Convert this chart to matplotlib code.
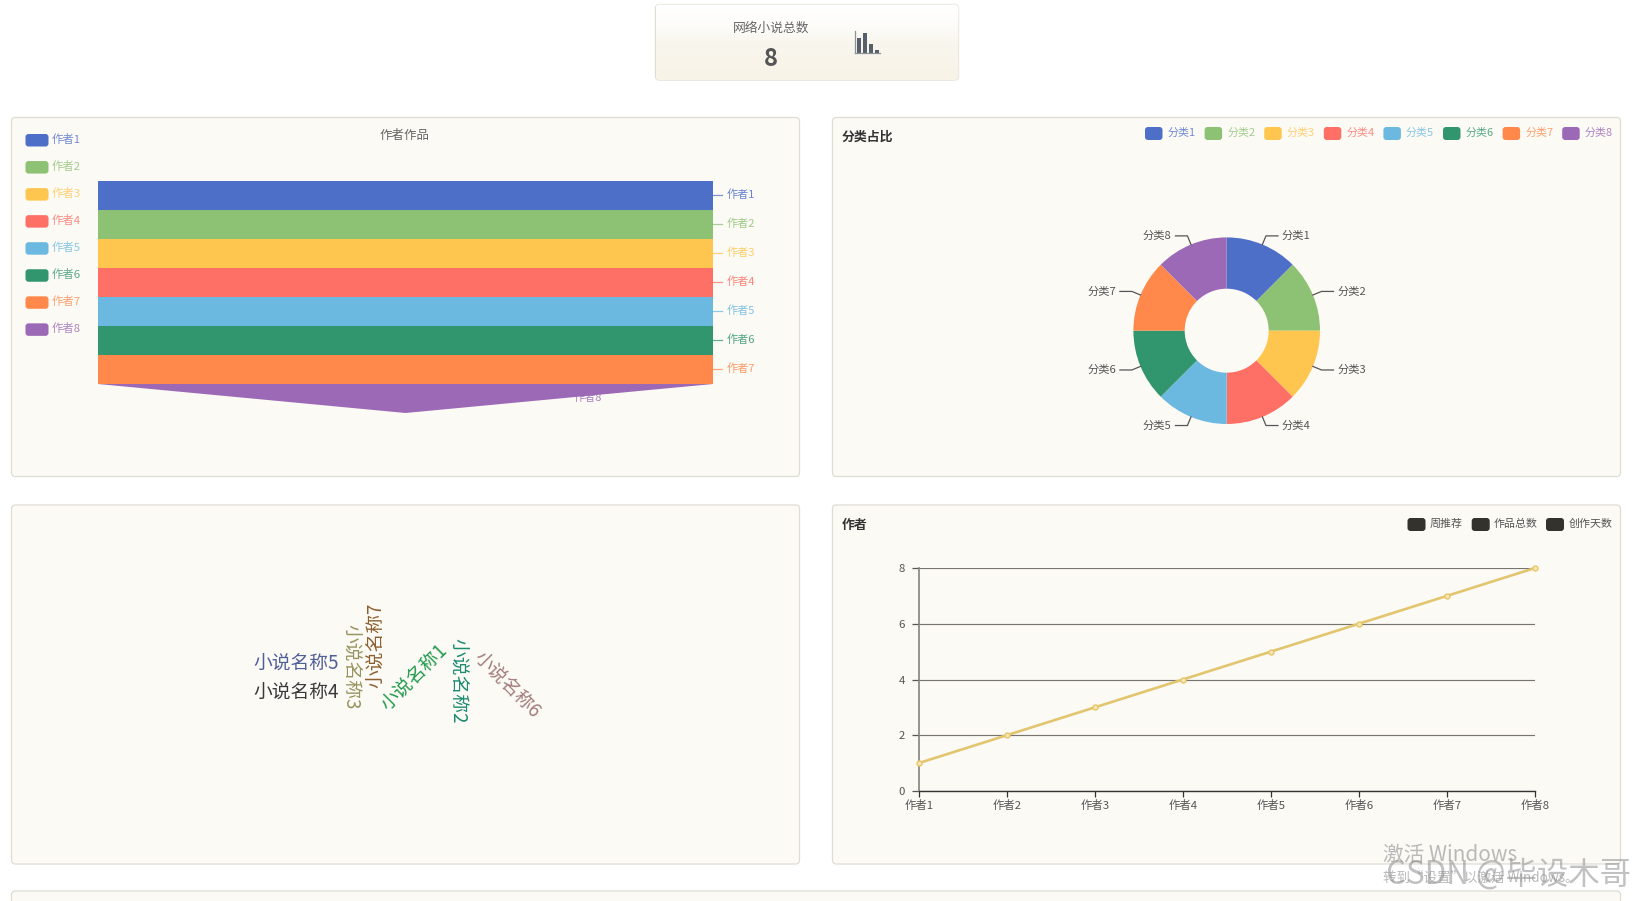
import numpy as np
import matplotlib
matplotlib.use("Agg")
import matplotlib.pyplot as plt
from matplotlib.patches import FancyBboxPatch
from matplotlib.colors import LinearSegmentedColormap

plt.rcParams['font.family'] = ['Noto Sans CJK SC', 'DejaVu Sans']

W, H = 1635, 901
PANEL_BG = '#fcfaf5'
BORDER = '#dfddd3'

# ---------- data ----------
palette = ['#4e6fc7', '#8dc173', '#ffc64f', '#fe7066', '#6bb8e0', '#31966e', '#ff884a', '#9b69b5']
authors = ['作者1', '作者2', '作者3', '作者4', '作者5', '作者6', '作者7', '作者8']
funnel_values = [8, 8, 8, 8, 8, 8, 8, 8]
categories = ['分类1', '分类2', '分类3', '分类4', '分类5', '分类6', '分类7', '分类8']
category_values = [1, 1, 1, 1, 1, 1, 1, 1]
words = ['小说名称5', '小说名称4', '小说名称3', '小说名称7', '小说名称1', '小说名称2', '小说名称6']
word_colors = ['#4f5f98', '#3a3a3a', '#98945f', '#8c6030', '#1f9a4c', '#1c8a70', '#a27c7c']
line_names = ['周推荐', '作品总数', '创作天数']
line_values = [1, 2, 3, 4, 5, 6, 7, 8]
y_ticks = [0, 2, 4, 6, 8]
icon_values = [3.2, 4.3, 1.9, 0.6]
total_label = '网络小说总数'
total_value = '8'

fig = plt.figure(figsize=(W / 100, H / 100), dpi=100, facecolor='white')


def axes_px(x, y, w, h, **kw):
    return fig.add_axes([x / W, 1 - (y + h) / H, w / W, h / H], **kw)


bg = axes_px(0, 0, W, H)
bg.set_xlim(0, W)
bg.set_ylim(H, 0)
bg.axis('off')


def rbox(x, y, w, h, fc, ec='none', r=3, lw=0.9, z=1):
    p = FancyBboxPatch((x, y), w, h, boxstyle=f'round,pad=0,rounding_size={r}',
                       fc=fc, ec=ec, lw=lw, zorder=z)
    bg.add_patch(p)
    return p


# ---------- panels ----------
for (px, py, pw, ph) in [(11.5, 117.5, 788, 359), (832.5, 117.5, 788, 359),
                         (11.5, 505, 788, 359), (832.5, 505, 788, 359),
                         (11.5, 891, 1609, 40)]:
    rbox(px, py, pw, ph, PANEL_BG, BORDER, r=4)

# ---------- top card ----------
card = rbox(655.5, 4.5, 303, 75.5, 'white', BORDER, r=4, z=2)
cmap = LinearSegmentedColormap.from_list(
    'card', [(0, '#ffffff'), (0.3, '#fdfcf9'), (0.5, '#f9f6ee'), (1, '#f8f3e7')])
im = bg.imshow(np.linspace(0, 1, 100)[:, None], extent=(655.5, 958.5, 80, 4.5),
               cmap=cmap, aspect='auto', zorder=2.1)
im.set_clip_path(card)
bg.set_xlim(0, W)
bg.set_ylim(H, 0)
bg.text(771.5, 28, total_label, fontsize=9.2, color='#666666', ha='center', va='center', zorder=3)
bg.text(771, 59, total_value, fontsize=17, color='#555555', fontweight='bold',
        ha='center', va='center', zorder=3)

icon = axes_px(855, 31, 25, 22)
icon.patch.set_alpha(0)
icon.bar(range(len(icon_values)), icon_values, width=0.72, color='#565f6a')
icon.set_xlim(-0.7, 3.5)
icon.set_ylim(0, 4.8)
icon.set_xticks([])
icon.set_yticks([])
for s in ('top', 'right'):
    icon.spines[s].set_visible(False)
for s in ('left', 'bottom'):
    icon.spines[s].set_color('#8a929a')
    icon.spines[s].set_linewidth(0.9)

# ---------- funnel panel ----------
bg.text(405, 135, '作者作品', fontsize=9.0, color='#666666', ha='center', va='center', zorder=3)
for i, (name, col) in enumerate(zip(authors, palette)):
    yy = 134 + i * 27.05
    rbox(25.5, yy, 23, 12.5, col, z=3)
    bg.text(52, yy + 5.6, name, fontsize=8.2, color=col, ha='left', va='center', zorder=3, alpha=0.8)

FX, FY, FW, FH = 98, 181, 615, 232
fa = axes_px(FX, FY, FW, FH)
fa.patch.set_alpha(0)
fa.axis('off')
n = len(funnel_values)
fa.set_xlim(-1, 1)
fa.set_ylim(n, 0)
top = max(funnel_values)
px_x = 2 / FW
px_y = n / FH
for i, (v, col, name) in enumerate(zip(funnel_values, palette, authors)):
    a = v / top
    b = funnel_values[i + 1] / top if i + 1 < n else 0
    fa.fill([-a, a, b, -b], [i, i, i + 1, i + 1], color=col, lw=0, zorder=3)
    mid = (a + b) / 2
    if i + 1 < n:
        fa.plot([mid, mid + 9 * px_x], [i + 0.5 - 0.5 * px_y] * 2, color=col, lw=0.9, alpha=0.75,
                clip_on=False, zorder=2)
    fa.text(mid + 14 * px_x, i + 0.5 - px_y, name, fontsize=8.0, color=col, ha='left', va='center',
            clip_on=False, zorder=2, alpha=0.85)

# ---------- donut panel ----------
bg.text(842, 137, '分类占比', fontsize=9.3, color='#333333', fontweight='bold',
        ha='left', va='center', zorder=3)
x0 = 1145
for i, (name, col) in enumerate(zip(categories, palette)):
    xx = x0 + i * 59.6
    rbox(xx, 127, 17.5, 13, col, z=3)
    bg.text(xx + 22.5, 132.5, name, fontsize=7.9, color=col, ha='left', va='center', zorder=3, alpha=0.8)

R = 93.3
CX, CY = 1226.7, 330.7
pa = axes_px(CX - R, CY - R, 2 * R, 2 * R)
pa.patch.set_alpha(0)
pa.pie(category_values, colors=palette, startangle=90, counterclock=False, radius=1,
       wedgeprops=dict(width=1 - 42 / R, edgecolor='none'))
pa.set_xlim(-1, 1)
pa.set_ylim(-1, 1)
total = sum(category_values)
cum = 0
for name, v in zip(categories, category_values):
    th = 2 * np.pi * (cum + v / 2) / total
    cum += v
    sx, cx_ = np.sin(th), np.cos(th)
    side = 1 if sx > 0 else -1
    ex, ey = 1.1 * sx, 1.1 * cx_
    fx = ex + side * 12 / R
    pa.plot([sx, ex, fx], [cx_, ey, ey], color='#555555', lw=0.9, clip_on=False)
    pa.text(fx + side * 4 / R, ey, name, fontsize=8.1, color='#555555', clip_on=False,
            ha='left' if side > 0 else 'right', va='center')

# ---------- word cloud ----------
word_x = [295.7, 295.7, 350.0, 376.7, 414.3, 457.5, 506.0]
word_y = [664.3, 692.8, 667, 645, 678, 681, 685.5]
word_rot = [0, 0, -90, 90, 45, -90, -45]
for t, c, x, y, r in zip(words, word_colors, word_x, word_y, word_rot):
    bg.text(x, y, t, fontsize=13.5, color=c, rotation=r, rotation_mode='anchor',
            ha='center', va='center', zorder=3)

# ---------- line panel ----------
bg.text(841.5, 524.5, '作者', fontsize=9.3, color='#333333', fontweight='bold',
        ha='left', va='center', zorder=3)
leg_x = [1407.5, 1471.7, 1546]
for name, xx in zip(line_names, leg_x):
    rbox(xx, 518, 18, 13, '#33322c', z=3)
    bg.text(xx + 22.3, 524, name, fontsize=7.9, color='#555555', ha='left', va='center', zorder=3)

la = axes_px(918.7, 568, 616.3, 223)
la.patch.set_alpha(0)
la.set_xlim(0, 7)
la.set_ylim(0, 8)
la.set_xticks(range(len(authors)))
la.set_xticklabels(authors, fontsize=8.2, color='#555555')
la.set_yticks(y_ticks)
la.set_yticklabels([str(t) for t in y_ticks], fontsize=8.2, color='#555555')
la.tick_params(axis='x', length=4, width=0.9, color='#333333', pad=2.5)
la.tick_params(axis='y', length=5, width=0.9, color='#555555', pad=5)
la.grid(axis='y', color='#77756e', lw=0.85)
la.set_axisbelow(True)
for s in ('top', 'right'):
    la.spines[s].set_visible(False)
la.spines['left'].set_color('#85837c')
la.spines['left'].set_linewidth(1.2)
la.spines['bottom'].set_color('#333333')
la.spines['bottom'].set_linewidth(1.0)
la.plot(range(len(line_values)), line_values, color='#e2c56f', lw=1.9, marker='o', ms=3.6,
        mfc='#f6e7b8', mec='#e8c766', mew=1.0, clip_on=False, zorder=5)

# ---------- overlays ----------
ov = axes_px(0, 0, W, H)
ov.patch.set_alpha(0)
ov.set_xlim(0, W)
ov.set_ylim(H, 0)
ov.axis('off')
ov.text(1383, 855, '激活 Windows', fontsize=14.9, color='#a9a9a9', alpha=0.8, ha='left', va='center')
ov.text(1383, 878, '转到“设置”以激活 Windows。', fontsize=9.7, color='#a9a9a9', alpha=0.8, ha='left', va='center')
ov.text(1386, 875, 'CSDN @毕设木哥', fontsize=22.6, color='#8f8f8f', alpha=0.55, ha='left', va='center')

fig.savefig('out.png', dpi=100, facecolor='white')
